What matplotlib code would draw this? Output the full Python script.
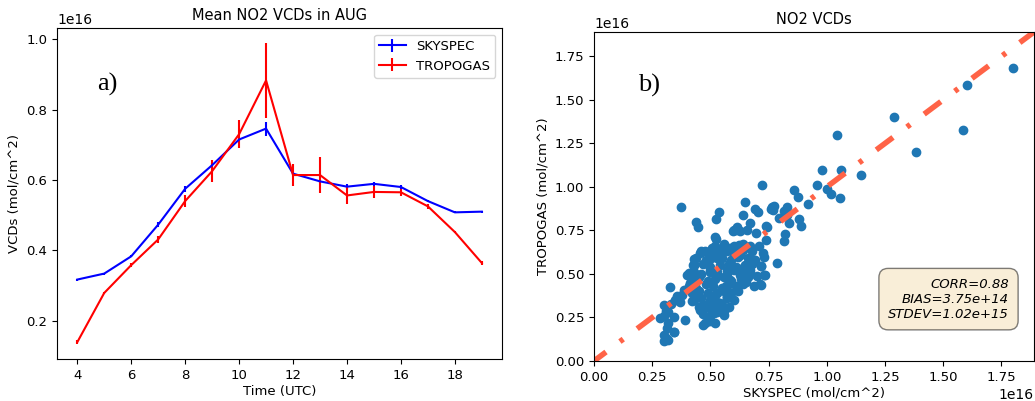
import matplotlib
matplotlib.use('Agg')
import matplotlib.pyplot as plt
import numpy as np

#### Mean diurnal NO2 VCDs (August) ####
hours = [4, 5, 6, 7, 8, 9, 10, 11, 12, 13, 14, 15, 16, 17, 18, 19]
skyspec_mean = [0.317, 0.334, 0.383, 0.473, 0.575, 0.642, 0.715, 0.746,
                0.618, 0.596, 0.581, 0.589, 0.580, 0.540, 0.508, 0.510]
skyspec_err = [0.003, 0.003, 0.003, 0.007, 0.008, 0.005, 0.005, 0.020,
               0.004, 0.004, 0.007, 0.005, 0.005, 0.003, 0.003, 0.003]
tropogas_mean = [0.139, 0.279, 0.358, 0.431, 0.540, 0.625, 0.730, 0.883,
                 0.614, 0.614, 0.556, 0.566, 0.565, 0.525, 0.452, 0.364]
tropogas_err = [0.005, 0.004, 0.005, 0.011, 0.016, 0.031, 0.039, 0.106,
                0.031, 0.050, 0.023, 0.016, 0.010, 0.008, 0.003, 0.006]

#### Scatter SKYSPEC vs TROPOGAS (units of 1e16 mol/cm^2) ####
# outer / isolated points
sky = [1.800, 1.602, 1.585, 1.384, 1.290, 1.042, 1.147, 1.063, 1.056, 0.981,
       0.960, 1.003, 1.017, 0.921, 0.859, 0.876, 0.723, 0.647, 0.374, 0.536,
       0.522, 0.440, 0.445, 0.641, 0.691, 0.704, 0.766, 0.769, 0.828, 0.816,
       0.830, 0.838, 0.881, 0.888, 0.819, 0.816, 0.744, 0.737, 0.773, 0.759,
       0.795, 0.787, 0.672, 0.615, 0.601, 0.629, 0.658, 0.526, 0.716, 0.733,
       0.713, 0.687, 0.655, 0.392, 0.468, 0.500, 0.345, 0.299, 0.328, 0.385,
       0.399, 0.424, 0.431, 0.457, 0.478, 0.507, 0.572, 0.507, 0.471, 0.557,
       0.507, 0.741, 0.608, 0.598, 0.694, 0.708, 0.622, 0.586, 0.543, 0.428,
       0.406, 0.493, 0.529, 0.601, 0.629, 0.687, 0.716, 0.672, 0.615, 0.572,
       0.500, 0.457, 0.730, 0.701, 0.356, 0.299, 0.320, 0.284, 0.342, 0.313,
       0.299, 0.342, 0.421, 0.414, 0.486, 0.514, 0.478, 0.543, 0.572, 0.565,
       0.586, 0.629, 0.716, 0.529, 0.428, 0.529, 0.443, 0.457, 0.726, 0.730,
       0.310, 0.330, 0.350, 0.370, 0.380, 0.300, 0.320, 0.310, 0.320, 0.520]
trop = [1.681, 1.583, 1.326, 1.203, 1.402, 1.301, 1.070, 1.095, 0.936, 1.095,
        1.012, 0.989, 0.960, 0.899, 0.981, 0.941, 1.009, 0.916, 0.882, 0.855,
        0.815, 0.797, 0.772, 0.836, 0.872, 0.855, 0.884, 0.868, 0.886, 0.861,
        0.841, 0.790, 0.813, 0.774, 0.732, 0.688, 0.771, 0.697, 0.893, 0.874,
        0.822, 0.563, 0.795, 0.772, 0.753, 0.744, 0.753, 0.701, 0.546, 0.492,
        0.442, 0.432, 0.455, 0.238, 0.206, 0.231, 0.169, 0.115, 0.423, 0.407,
        0.494, 0.551, 0.584, 0.619, 0.634, 0.647, 0.369, 0.340, 0.321, 0.263,
        0.277, 0.774, 0.755, 0.746, 0.735, 0.659, 0.669, 0.649, 0.640, 0.553,
        0.505, 0.582, 0.591, 0.601, 0.611, 0.582, 0.543, 0.524, 0.534, 0.524,
        0.514, 0.496, 0.496, 0.486, 0.371, 0.323, 0.284, 0.246, 0.255, 0.188,
        0.150, 0.169, 0.342, 0.448, 0.313, 0.274, 0.217, 0.332, 0.371, 0.428,
        0.467, 0.496, 0.438, 0.486, 0.486, 0.390, 0.399, 0.294, 0.620, 0.600,
        0.290, 0.330, 0.350, 0.340, 0.380, 0.260, 0.220, 0.130, 0.120, 0.710]
# dense core of the cloud
core_sky = [0.45, 0.48, 0.52, 0.55, 0.58,
            0.43, 0.46, 0.50, 0.53, 0.57, 0.60,
            0.42, 0.45, 0.49, 0.52, 0.56, 0.59, 0.62,
            0.41, 0.44, 0.48, 0.51, 0.55, 0.58, 0.61, 0.64,
            0.42, 0.45, 0.49, 0.52, 0.56, 0.59, 0.63, 0.66,
            0.43, 0.46, 0.50, 0.53, 0.57, 0.60, 0.64, 0.67,
            0.43, 0.47, 0.50, 0.54, 0.58, 0.61, 0.65, 0.68,
            0.44, 0.48, 0.51, 0.55, 0.59, 0.62, 0.66, 0.69,
            0.46, 0.50, 0.53, 0.57, 0.61, 0.64, 0.68,
            0.52, 0.56, 0.60, 0.64, 0.67,
            0.47, 0.50, 0.53, 0.56, 0.49, 0.52]
core_trop = [0.31, 0.31, 0.30, 0.32, 0.31,
             0.35, 0.36, 0.35, 0.34, 0.36, 0.35,
             0.39, 0.40, 0.39, 0.38, 0.40, 0.39, 0.40,
             0.43, 0.42, 0.44, 0.43, 0.42, 0.44, 0.43, 0.44,
             0.47, 0.48, 0.46, 0.47, 0.48, 0.46, 0.47, 0.48,
             0.51, 0.50, 0.52, 0.51, 0.50, 0.52, 0.51, 0.50,
             0.55, 0.56, 0.54, 0.55, 0.56, 0.54, 0.55, 0.56,
             0.59, 0.58, 0.60, 0.59, 0.58, 0.60, 0.59, 0.58,
             0.63, 0.62, 0.64, 0.63, 0.62, 0.64, 0.63,
             0.66, 0.67, 0.66, 0.67, 0.66,
             0.27, 0.26, 0.28, 0.29, 0.23, 0.22]
stats_text = 'CORR=0.88\nBIAS=3.75e+14\nSTDEV=1.02e+15'

scale = 1e16
plt.rcParams['lines.scale_dashes'] = False

fig = plt.figure(figsize=(10.35, 4.01), dpi=100)

# Panel a) mean diurnal cycle
ax1 = fig.add_axes([0.0551, 0.1047, 0.43, 0.8254])
ax1.errorbar(hours, np.array(skyspec_mean) * scale, yerr=np.array(skyspec_err) * scale,
             color='b', label='SKYSPEC', linewidth=1.5)
ax1.errorbar(hours, np.array(tropogas_mean) * scale, yerr=np.array(tropogas_err) * scale,
             color='r', label='TROPOGAS', linewidth=1.5)
ax1.set_title('Mean NO2 VCDs in AUG', fontsize=10.5)
ax1.set_xlabel('Time (UTC)', fontsize=9.5, labelpad=2)
ax1.set_ylabel('VCDs (mol/cm^2)', fontsize=9.5)
ax1.tick_params(labelsize=9.5)
ax1.legend(loc='upper right', fontsize=9.5)
ax1.text(0.09, 0.81, 'a)', transform=ax1.transAxes, fontsize=19,
         family='Liberation Serif')

# Panel b) scatter
ax2 = fig.add_axes([0.5739, 0.0998, 0.4251, 0.8204])
all_sky = np.array(sky + core_sky) * scale
all_trop = np.array(trop + core_trop) * scale
ax2.scatter(all_sky, all_trop, color='#1f77b4', s=36)
ax2.plot([-0.02 * scale, 2.0 * scale], [-0.02 * scale, 2.0 * scale], color='tomato',
         linewidth=4, linestyle=(0, (15, 12.5, 3, 12.5)))
ax2.set_xlim(0, 1.89 * scale)
ax2.set_ylim(0, 1.89 * scale)
ax2.set_title('NO2 VCDs', fontsize=10.5)
ax2.set_xlabel('SKYSPEC (mol/cm^2)', fontsize=9.5, labelpad=2)
ax2.set_ylabel('TROPOGAS (mol/cm^2)', fontsize=9.5)
ax2.tick_params(labelsize=9.5)
ax2.text(0.10, 0.82, 'b)', transform=ax2.transAxes, fontsize=19,
         family='Liberation Serif')
ax2.text(0.943, 0.188, stats_text, transform=ax2.transAxes, fontsize=9.5,
         style='italic', ha='right', va='center', multialignment='right',
         bbox=dict(boxstyle='round,pad=0.7', facecolor='wheat', alpha=0.5))

fig.savefig('out.png', dpi=100)
